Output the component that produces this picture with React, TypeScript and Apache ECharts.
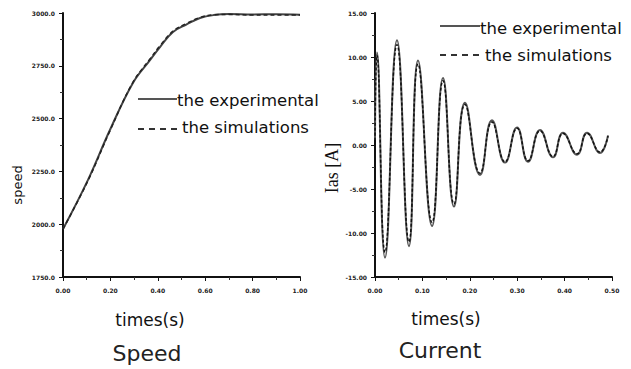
import React, { useEffect, useRef } from "react";
import * as echarts from "echarts";

// Speed panel
const speedTime = [0, 0.105, 0.198, 0.295, 0.367, 0.41, 0.464, 0.52, 0.578, 0.635, 0.7, 0.8, 0.9, 1.0];
const speedExp = [1977, 2209, 2446, 2669, 2777, 2840, 2910, 2945, 2976, 2990, 2995, 2993, 2994, 2992];
const speedSim = [1977, 2205, 2442, 2672, 2782, 2846, 2914, 2950, 2979, 2991, 2993, 2990, 2991, 2990];

// Current panel
const currentTime = [0, 0.0042, 0.0211, 0.0464, 0.0717, 0.0907, 0.1203, 0.1435, 0.1667, 0.1899, 0.2215, 0.2468, 0.2743, 0.2996, 0.3228, 0.3481, 0.3755, 0.3966, 0.4262, 0.4473, 0.4747, 0.4916];
const currentExp = [0.6, 10.5, -12.8, 11.9, -11.5, 9.6, -9.2, 7.6, -7.0, 4.8, -3.4, 2.8, -2.0, 2.0, -1.9, 1.7, -1.4, 1.4, -1.1, 1.4, -0.9, 1.1];
const currentSim = [0.5, 10.2, -12.2, 11.4, -11.0, 9.2, -8.8, 7.3, -6.7, 4.6, -3.2, 2.6, -1.9, 1.9, -1.8, 1.6, -1.3, 1.3, -1.0, 1.3, -0.8, 1.0];

const legendLabels = ["the experimental", "the simulations"];

const zip = (xs: number[], ys: number[]) => xs.map((x, i) => [x, ys[i]]);

const axisCommon = {
  axisLine: { show: true, onZero: false, lineStyle: { color: "#111", width: 2 } },
  axisTick: { show: true, inside: false, length: 4, lineStyle: { color: "#111", width: 1 } },
  minorTick: { show: true, splitNumber: 2, length: 3, lineStyle: { color: "#333", width: 1 } },
  splitLine: { show: false },
  axisLabel: { fontSize: 6, fontWeight: "bold" as const, color: "#222", fontFamily: "DejaVu Sans" },
};

export default function App() {
  const ref = useRef<HTMLDivElement>(null);
  useEffect(() => {
    document.body.style.margin = "0";
    if (!ref.current) return;
    const chart = echarts.init(ref.current, undefined, { renderer: "svg" });
    const legendFont = { fontFamily: "DejaVu Sans", fontSize: 16.5, fill: "#111" };
    const option = {
      animation: false,
      backgroundColor: "#fff",
      grid: [
        { left: 63, top: 13, width: 237, height: 264 },
        { left: 375, top: 13, width: 237, height: 264 },
      ],
      xAxis: [
        { ...axisCommon, type: "value", gridIndex: 0, min: 0, max: 1, interval: 0.2,
          axisLabel: { ...axisCommon.axisLabel, margin: 10, formatter: (v: number) => v.toFixed(2) } },
        { ...axisCommon, type: "value", gridIndex: 1, min: 0, max: 0.5, interval: 0.1,
          axisLabel: { ...axisCommon.axisLabel, margin: 10, formatter: (v: number) => v.toFixed(2) } },
      ],
      yAxis: [
        { ...axisCommon, type: "value", gridIndex: 0, min: 1750, max: 3000, interval: 250,
          axisLabel: { ...axisCommon.axisLabel, margin: 8, formatter: (v: number) => v.toFixed(1) } },
        { ...axisCommon, type: "value", gridIndex: 1, min: -15, max: 15, interval: 5,
          axisLabel: { ...axisCommon.axisLabel, margin: 8, formatter: (v: number) => v.toFixed(2) } },
      ],
      series: [
        { type: "line", xAxisIndex: 0, yAxisIndex: 0, data: zip(speedTime, speedExp), smooth: 0.4, showSymbol: false,
          lineStyle: { color: "#444", width: 2 } },
        { type: "line", xAxisIndex: 0, yAxisIndex: 0, data: zip(speedTime, speedSim), smooth: 0.4, showSymbol: false,
          lineStyle: { color: "#222", width: 1.5, type: [4, 3] } },
        { type: "line", xAxisIndex: 1, yAxisIndex: 1, data: zip(currentTime, currentExp), smooth: 0.5, showSymbol: false,
          lineStyle: { color: "#555", width: 2 } },
        { type: "line", xAxisIndex: 1, yAxisIndex: 1, data: zip(currentTime, currentSim), smooth: 0.5, showSymbol: false,
          lineStyle: { color: "#111", width: 1.5, type: [3, 2] } },
      ],
      graphic: [
        // speed legend
        { type: "line", shape: { x1: 138, y1: 99, x2: 177, y2: 99 }, style: { stroke: "#555", lineWidth: 2 } },
        { type: "text", x: 177, y: 100, style: { ...legendFont, text: legendLabels[0], verticalAlign: "middle" } },
        { type: "line", shape: { x1: 138, y1: 129, x2: 177, y2: 129 }, style: { stroke: "#333", lineWidth: 2, lineDash: [6, 5] } },
        { type: "text", x: 182, y: 127, style: { ...legendFont, text: legendLabels[1], verticalAlign: "middle" } },
        // current legend
        { type: "line", shape: { x1: 440, y1: 26, x2: 480, y2: 26 }, style: { stroke: "#555", lineWidth: 2 } },
        { type: "text", x: 480, y: 28, style: { ...legendFont, text: legendLabels[0], verticalAlign: "middle" } },
        { type: "line", shape: { x1: 440, y1: 55, x2: 483, y2: 55 }, style: { stroke: "#333", lineWidth: 2, lineDash: [6, 5] } },
        { type: "text", x: 485, y: 55, style: { ...legendFont, text: legendLabels[1], verticalAlign: "middle" } },
        // axis names
        { type: "text", x: 150, y: 320, style: { fontFamily: "DejaVu Sans", fontSize: 17, fill: "#111", text: "times(s)", align: "center", verticalAlign: "middle" } },
        { type: "text", x: 446, y: 319, style: { fontFamily: "DejaVu Sans", fontSize: 17, fill: "#111", text: "times(s)", align: "center", verticalAlign: "middle" } },
        { type: "text", x: 17, y: 185, rotation: Math.PI / 2, style: { fontFamily: "DejaVu Sans", fontSize: 13, fill: "#111", text: "speed", align: "center", verticalAlign: "middle" } },
        { type: "text", x: 332, y: 168, rotation: Math.PI / 2, style: { fontFamily: "Liberation Serif", fontSize: 18, fill: "#111", text: "Ias [A]", align: "center", verticalAlign: "middle" } },
        // panel titles
        { type: "text", x: 147, y: 353, style: { fontFamily: "DejaVu Sans", fontSize: 22, fill: "#222", text: "Speed", align: "center", verticalAlign: "middle" } },
        { type: "text", x: 440, y: 350, style: { fontFamily: "DejaVu Sans", fontSize: 22, fill: "#222", text: "Current", align: "center", verticalAlign: "middle" } },
      ],
    };
    chart.setOption(option as any);
    return () => chart.dispose();
  }, []);
  return <div ref={ref} style={{ width: 631, height: 369 }} />;
}
